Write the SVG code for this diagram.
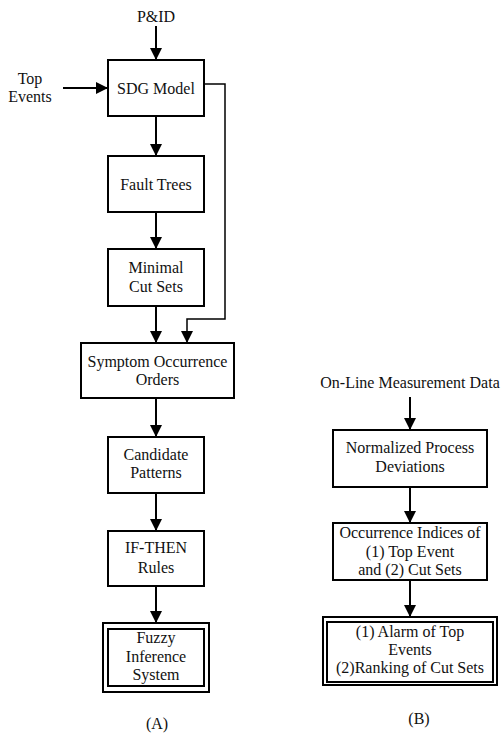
<svg xmlns="http://www.w3.org/2000/svg" width="501" height="735" viewBox="0 0 501 735" font-family="'Liberation Serif', 'Times New Roman', Times, serif">
<defs>
<marker id="ah" markerWidth="12" markerHeight="14" viewBox="0 0 12 14" refX="12" refY="7" orient="auto" markerUnits="userSpaceOnUse">
<path d="M0,1 L12,7 L0,13 Z" fill="#000"/>
</marker>
</defs>
<style>
text{font-size:16px;fill:#111;text-anchor:middle}
.box{fill:#fff;stroke:#000;stroke-width:2}
.c{fill:none;stroke:#000;stroke-width:2}
.thin{fill:none;stroke:#000;stroke-width:1.5}
</style>
<rect width="501" height="735" fill="#fff"/>
<g id="connectors">
<path class="c" d="M156,26 V60" marker-end="url(#ah)"/>
<path class="c" d="M63,88 H108" marker-end="url(#ah)"/>
<path class="c" d="M156,116 V156" marker-end="url(#ah)"/>
<path class="c" d="M156,212 V249" marker-end="url(#ah)"/>
<path class="c" d="M156,306 V343" marker-end="url(#ah)"/>
<path class="thin" d="M204,84 H225 V319 H187 V343" marker-end="url(#ah)"/>
<path class="c" d="M156,398 V437" marker-end="url(#ah)"/>
<path class="c" d="M156,493 V531" marker-end="url(#ah)"/>
<path class="c" d="M156,586 V623" marker-end="url(#ah)"/>
<path class="c" d="M410,397 V430" marker-end="url(#ah)"/>
<path class="c" d="M410,487 V523" marker-end="url(#ah)"/>
<path class="c" d="M410,580 V617" marker-end="url(#ah)"/>
</g>
<g id="pid"><text x="156" y="22">P&amp;ID</text></g>
<g id="topevents"><text x="30" y="84">Top</text><text x="30" y="102">Events</text></g>
<g id="sdg"><rect class="box" x="108" y="60" width="96" height="56"/><text x="156" y="94">SDG Model</text></g>
<g id="fault"><rect class="box" x="108" y="156" width="96" height="56"/><text x="156" y="190">Fault Trees</text></g>
<g id="mcs"><rect class="box" x="108" y="249" width="96" height="57"/><text x="156" y="273">Minimal</text><text x="156" y="292">Cut Sets</text></g>
<g id="symptom"><rect class="box" x="81" y="343" width="153" height="55"/><text x="157.5" y="367">Symptom Occurrence</text><text x="157.5" y="385">Orders</text></g>
<g id="candidate"><rect class="box" x="108" y="437" width="96" height="56"/><text x="156" y="460">Candidate</text><text x="156" y="478">Patterns</text></g>
<g id="ifthen"><rect class="box" x="108" y="531" width="96" height="55"/><text x="156" y="553">IF-THEN</text><text x="156" y="573">Rules</text></g>
<g id="fuzzy"><rect class="box" x="103" y="623" width="106" height="69"/><rect class="box" x="108" y="629" width="96" height="57"/><text x="156" y="643">Fuzzy</text><text x="156" y="662">Inference</text><text x="156" y="680">System</text></g>
<g id="labelA"><text x="157" y="729">(A)</text></g>
<g id="online"><text x="410" y="388">On-Line Measurement Data</text></g>
<g id="normalized"><rect class="box" x="333" y="430" width="154" height="57"/><text x="410" y="453">Normalized Process</text><text x="410" y="472">Deviations</text></g>
<g id="indices"><rect class="box" x="333" y="523" width="154" height="57"/><text x="410" y="538">Occurrence Indices of</text><text x="410" y="557">(1) Top Event</text><text x="410" y="575">and (2) Cut Sets</text></g>
<g id="alarm"><rect class="box" x="323" y="617" width="174" height="68"/><rect class="box" x="327" y="622" width="166" height="60"/><text x="410" y="637">(1) Alarm of Top</text><text x="410" y="655">Events</text><text x="410" y="673">(2)Ranking of Cut Sets</text></g>
<g id="labelB"><text x="419" y="724">(B)</text></g>
</svg>
